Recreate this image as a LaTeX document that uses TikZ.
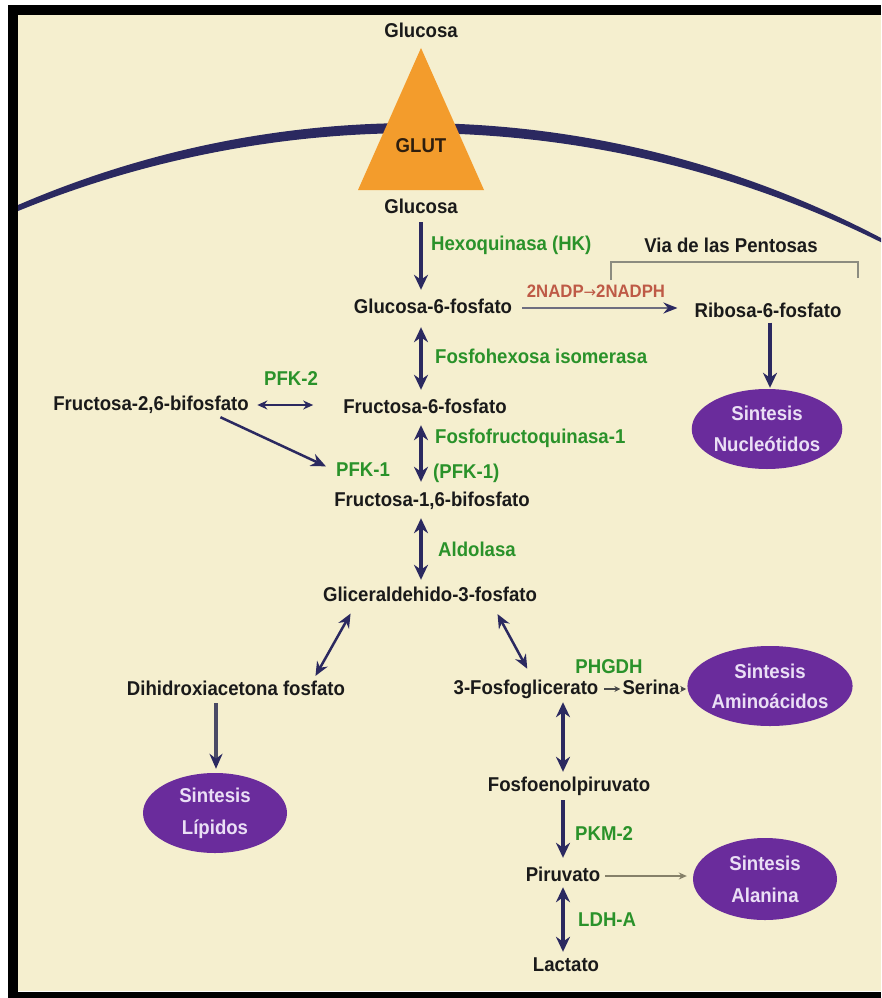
\documentclass[tikz,border=0pt]{standalone}
\usepackage{fontspec}
\setmainfont{Liberation Sans}[FakeStretch=0.93]
\newfontfamily\arrowfont{DejaVu Sans}
\usetikzlibrary{shapes.geometric,arrows.meta}
\definecolor{cream}{HTML}{F5EFCF}
\definecolor{navy}{HTML}{2B2960}
\definecolor{ink}{HTML}{1A1A1A}
\definecolor{enzgreen}{HTML}{2A922A}
\definecolor{nadpred}{HTML}{BE5A46}
\definecolor{synpurple}{HTML}{6A2C9C}
\definecolor{syntext}{HTML}{EADFF5}
\definecolor{glutorange}{HTML}{F39C2C}
\definecolor{glutink}{HTML}{2E1E0E}
\definecolor{linegrey}{HTML}{6E6E80}
\definecolor{dhapgrey}{HTML}{4A4A66}
\definecolor{olivegrey}{HTML}{858069}
\definecolor{bracketgrey}{HTML}{8C8C80}
\begin{document}
\begin{tikzpicture}[x=1pt,y=1pt,
  lbl/.style={inner sep=0pt, text height=15pt, text depth=4pt, font=\bfseries\fontsize{20}{24}\selectfont, text=ink},
  enz/.style={lbl, text=enzgreen, anchor=west},
  syn/.style={ellipse, fill=synpurple, inner sep=0pt, minimum width=144pt, minimum height=80pt, align=center, text=syntext, font=\bfseries\fontsize{20}{25}\selectfont},
  bigarrow/.style={draw=navy, line width=3.5pt, -{Stealth[length=15pt,width=14pt]}},
  bigdbl/.style={draw=navy, line width=3.5pt, {Stealth[length=15pt,width=14pt]}-{Stealth[length=15pt,width=14pt]}},
  middbl/.style={draw=navy, line width=2.5pt, {Stealth[length=14pt,width=12pt]}-{Stealth[length=14pt,width=12pt]}},
  midarrow/.style={draw=navy, line width=2.5pt, -{Stealth[length=15pt,width=13pt]}},
  thindbl/.style={draw=navy, line width=2pt, {Stealth[length=10pt,width=9pt]}-{Stealth[length=10pt,width=9pt]}},
  greyarrow/.style={draw=linegrey, line width=2.2pt, -{Stealth[length=14pt,width=11pt,color=navy]}},
  dhaparrow/.style={draw=dhapgrey, line width=3.5pt, -{Stealth[length=15pt,width=13pt,color=navy]}},
  tinyarrow/.style={draw=ink!80, line width=1.4pt, -{Stealth[length=6pt,width=6pt]}},
  olivearrow/.style={draw=olivegrey, line width=2pt, -{Stealth[length=8pt,width=7pt]}}
]
\useasboundingbox (0,0) rectangle (881,-998);
% background and frame
\fill[white] (0,0) rectangle (881,-998);
\fill[cream] (18,-15) rectangle (881,-991);
\begin{scope}
  \clip (18,-15) rectangle (881,-991);
  \fill[navy] ([shift={(415,-1125)}]115:1002pt) arc[start angle=115, end angle=61, radius=1002pt]
    -- ([shift={(415,-1182.3)}]62.42:1049.3pt) arc[start angle=62.42, end angle=113.8, radius=1049.3pt] -- cycle;
\end{scope}
\fill[black] (8,-5) rectangle (881,-15);
\fill[black] (8,-5) rectangle (18,-998);
\fill[black] (8,-992) rectangle (881,-998);
% GLUT transporter
\fill[glutorange] (421,-48) -- (358,-190) -- (484,-190) -- cycle;
\node[lbl, text=glutink] (glut) at (421,-147) {GLUT};
\node[lbl] (glc0) at (421,-32) {Glucosa};
\node[lbl] (glc1) at (421,-208) {Glucosa};
% column coordinates
\coordinate (cA) at (421,0);
\coordinate (cR) at (770,0);
\coordinate (cD) at (216,0);
\coordinate (cP) at (563,0);
% metabolites
\node[lbl] (g6p) at (433,-308) {Glucosa-6-fosfato};
\node[lbl] (rib) at (768,-312) {Ribosa-6-fosfato};
\node[lbl] (f26) at (151,-405) {Fructosa-2,6-bifosfato};
\node[lbl] (f6p) at (425,-408) {Fructosa-6-fosfato};
\node[lbl] (f16) at (432,-501) {Fructosa-1,6-bifosfato};
\node[lbl] (ga3p) at (430,-596) {Gliceraldehido-3-fosfato};
\node[lbl] (dhap) at (236,-690) {Dihidroxiacetona fosfato};
\node[lbl] (pg3) at (526,-689) {3-Fosfoglicerato};
\node[lbl] (ser) at (651,-689) {Serina};
\node[lbl] (pep) at (569,-786) {Fosfoenolpiruvato};
\node[lbl] (pyr) at (563,-876) {Piruvato};
\node[lbl] (lac) at (566,-966) {Lactato};
\node[lbl] (via) at (731,-247) {Via de las Pentosas};
% enzymes
\node[enz] (hk) at (431,-245) {Hexoquinasa (HK)};
\node[enz] (fhi) at (435,-358) {Fosfohexosa isomerasa};
\node[enz] (ffq) at (435,-438) {Fosfofructoquinasa-1};
\node[enz] (pfk1b) at (433,-473) {(PFK-1)};
\node[lbl, text=enzgreen] (pfk2) at (291,-380) {PFK-2};
\node[lbl, text=enzgreen] (pfk1a) at (363,-471) {PFK-1};
\node[enz] (ald) at (438,-551) {Aldolasa};
\node[lbl, text=enzgreen] (phgdh) at (609,-668) {PHGDH};
\node[enz] (pkm) at (575,-835) {PKM-2};
\node[enz] (ldh) at (578,-921) {LDH-A};
\node[lbl, text=nadpred, font=\bfseries\fontsize{18}{22}\selectfont] (nadp) at (596,-292) {2NADP{\arrowfont\mdseries\fontsize{15}{18}\selectfont →}2NADPH};
% synthesis ellipses
\node[syn, minimum width=150pt, minimum height=80pt] (nuc) at (767,-429) {Sintesis\\[6pt]Nucleótidos};
\node[syn, minimum width=144pt, minimum height=80pt] (amino) at (770,-686) {Sintesis\\[5pt]Aminoácidos};
\node[syn, minimum height=80pt] (lip) at (215,-813) {Sintesis\\[7pt]Lípidos};
\node[syn, minimum height=82pt] (ala) at (765,-879) {Sintesis\\[7pt]Alanina};
% pentose bracket
\draw[bracketgrey, line width=1.5pt] (611,-280) -- (611,-262) -- (858,-262) -- (858,-278);
% main column
\draw[bigarrow, shorten <=4.5pt, shorten >=8.5pt] (cA |- glc1.south) -- (cA |- g6p.north);
\draw[bigdbl, shorten <=9.5pt, shorten >=8.5pt] (cA |- g6p.south) -- (cA |- f6p.north);
\draw[bigdbl, shorten <=7.5pt, shorten >=9.5pt] (cA |- f6p.south) -- (cA |- f16.north);
\draw[bigdbl, shorten <=7.5pt, shorten >=6.5pt] (cA |- f16.south) -- (cA |- ga3p.north);
% pentose branch
\draw[greyarrow, shorten <=10pt, shorten >=17pt] (g6p.east) -- (g6p.east -| rib.west);
\draw[bigarrow, shorten <=1pt, shorten >=1pt] (cR |- rib.south) -- (cR |- nuc.north);
% PFK-2 / F2,6BP
\draw[thindbl, shorten <=8.5pt, shorten >=30pt] (f26.east) -- (f26.east -| f6p.west);
\draw[midarrow, shorten <=6pt, shorten >=11pt] ([xshift=64pt]f26.south) -- (pfk1a.west);
% trioses
\draw[middbl, shorten <=9pt, shorten >=5pt] ([xshift=-75pt]ga3p.south) -- ([xshift=77pt]dhap.north);
\draw[middbl, shorten <=9.5pt, shorten >=12pt] ([xshift=63pt]ga3p.south) -- ([xshift=7pt]pg3.north);
\draw[dhaparrow, shorten <=3.5pt, shorten >=4pt] (cD |- dhap.south) -- (cD |- lip.north);
% serine
\draw[tinyarrow, shorten <=5.5pt, shorten >=2pt] (pg3.east) -- (ser.west);
\draw[tinyarrow, shorten <=1pt, shorten >=1pt] (ser.east) -- (ser.east -| amino.west);
% lower column
\draw[bigdbl, shorten <=3.5pt, shorten >=4.5pt] (cP |- pg3.south) -- (cP |- pep.north);
\draw[bigarrow, shorten <=4.5pt, shorten >=8.5pt] (cP |- pep.south) -- (cP |- pyr.north);
\draw[bigdbl, shorten <=1.5pt, shorten >=4.5pt] (cP |- pyr.south) -- (cP |- lac.north);
\draw[olivearrow, shorten <=5pt, shorten >=6pt] (pyr.east) -- (pyr.east -| ala.west);
\end{tikzpicture}
\end{document}
